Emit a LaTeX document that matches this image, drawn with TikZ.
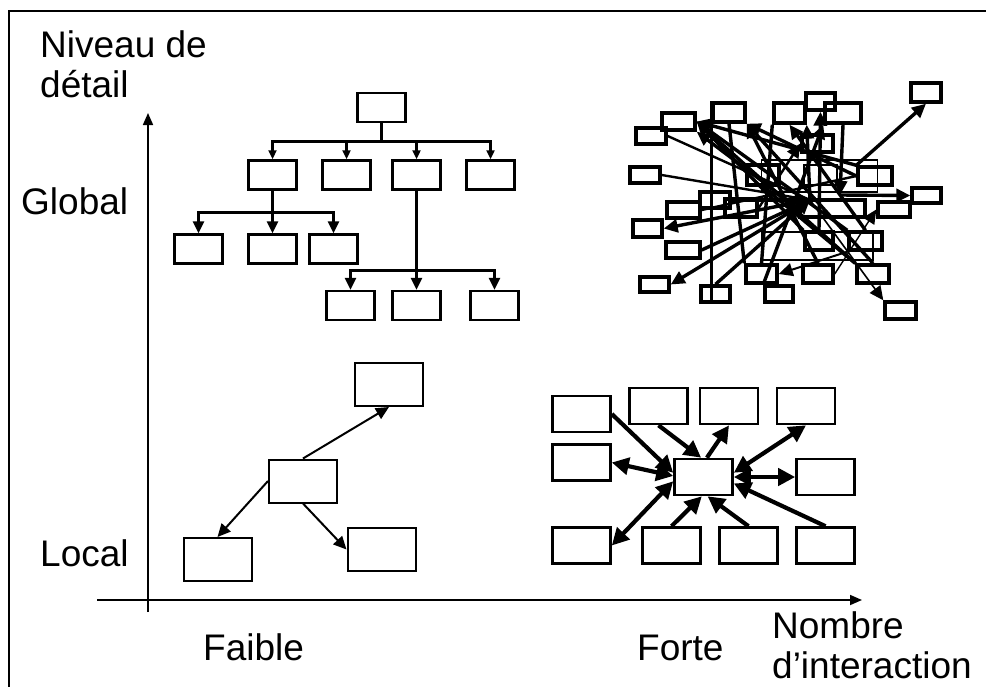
\documentclass[tikz,border=0pt]{standalone}
\usepackage{fontspec}
\setmainfont{Liberation Sans}
\usetikzlibrary{arrows.meta}

\begin{document}
\begin{tikzpicture}[
    x=1pt, y=-1pt,
    lbl/.style={anchor=base west, inner sep=0pt, font=\fontsize{37}{40}\selectfont, align=left},
    hbox/.style={draw=black, line width=2.5pt, inner sep=0pt, minimum width=48pt, minimum height=29pt},
    lbox/.style={draw=black, line width=2pt, inner sep=0pt, minimum width=68pt, minimum height=43pt},
    sbox/.style={draw=black, line width=2.6pt, inner sep=0pt, minimum width=58pt, minimum height=36pt},
    tbox/.style 2 args={draw=black, line width=3.4pt, inner sep=0pt, minimum width=#1, minimum height=#2},
    axis/.style={line width=1.7pt, -{Triangle[length=12pt, width=10pt]}},
    tree/.style={line width=2.5pt, -{Triangle[length=9pt, width=8pt]}},
    treebig/.style={line width=2.7pt, -{Triangle[length=12pt, width=11pt]}},
    link/.style={line width=2pt, -{Triangle[length=13pt, width=12pt]}},
    star/.style={line width=4.2pt, -{Triangle[length=17pt, width=17pt]}},
    starboth/.style={line width=4.2pt, {Triangle[length=17pt, width=17pt]}-{Triangle[length=17pt, width=17pt]}},
    knot/.style={line width=3.4pt, -{Triangle[length=14pt, width=13pt]}},
    kline/.style={line width=3.4pt}
  ]

    \useasboundingbox (0,0) rectangle (986,686);

    % Outer frame (only left and top edges show)
    \draw[line width=2.5pt] (9,11) rectangle (1000,700);

    % Axes
    \coordinate (yfoot) at (148,612);
    \coordinate (ytop) at (148,113);
    \coordinate (xfoot) at (97,600);
    \coordinate (xtip) at (862,600);
    \draw[axis] (yfoot) -- (ytop);
    \draw[axis] (xfoot) -- (xtip);

    % Axis labels
    \node[lbl] (ylabel) at (40,97) {Niveau de\\d\'etail};
    \node[lbl] (global) at (21,214) {Global};
    \node[lbl] (local) at (40,566) {Local};
    \node[lbl] (faible) at (203,660) {Faible};
    \node[lbl] (forte) at (637,660) {Forte};
    \node[lbl] (xlabel) at (772,678) {Nombre\\d'interaction};

    % Global / weak: hierarchy
    \node[hbox] (root) at (381.5,107.5) {};
    \node[hbox] (l1a) at (272.5,175) {};
    \node[hbox] (l1b) at (346.5,175) {};
    \node[hbox] (l1c) at (416.5,175) {};
    \node[hbox] (l1d) at (490.5,175) {};
    \node[hbox] (l2a) at (198.5,249) {};
    \node[hbox] (l2b) at (272.5,249) {};
    \node[hbox] (l2c) at (333.5,249) {};
    \node[hbox] (l2d) at (350.5,305.5) {};
    \node[hbox] (l2e) at (416.5,305.5) {};
    \node[hbox] (l2f) at (494.5,305.5) {};

    \draw[tree] (root.south) -- ++(0,18) -| (l1a.north);
    \draw[tree] (root.south) -- ++(0,18) -| (l1b.north);
    \draw[tree] (root.south) -- ++(0,18) -| (l1c.north);
    \draw[tree] (root.south) -- ++(0,18) -| (l1d.north);

    \draw[treebig] (l1a.south) -- ++(0,22) -| (l2a.north);
    \draw[treebig] (l1a.south) -- ++(0,22) -| (l2b.north);
    \draw[treebig] (l1a.south) -- ++(0,22) -| (l2c.north);

    \draw[treebig] (l1c.south) -- ++(0,80) -| (l2d.north);
    \draw[treebig] (l1c.south) -- ++(0,80) -| (l2e.north);
    \draw[treebig] (l1c.south) -- ++(0,80) -| (l2f.north);

    % Local / weak: few links
    \node[lbox] (bltop) at (389,384.5) {};
    \node[lbox] (blmid) at (303,481) {};
    \node[lbox] (blleft) at (217.5,559.5) {};
    \node[lbox] (blright) at (381.5,549.5) {};

    \draw[link] (blmid.north) -- (bltop.south);
    \draw[link] (blmid.west) -- (blleft.north);
    \draw[link] (blmid.south) -- (blright.west);

    % Local / strong: star
    \node[sbox] (c) at (703.5,477) {};
    \node[sbox] (sl1) at (581.5,414) {};
    \node[sbox] (sl2) at (581.5,462.5) {};
    \node[sbox] (sl3) at (581.5,545.5) {};
    \node[sbox] (st1) at (658.5,406) {};
    \node[sbox] (st2) at (729,406) {};
    \node[sbox] (st3) at (806,406) {};
    \node[sbox] (sr) at (825.5,477) {};
    \node[sbox] (sb1) at (671.5,545.5) {};
    \node[sbox] (sb2) at (748.5,545.5) {};
    \node[sbox] (sb3) at (825.5,545.5) {};

    \draw[star] (sl1.east) -- (c.172);
    \draw[starboth] (sl2.east) -- (c.178);
    \draw[starboth] (sl3.east) -- (c.188);
    \draw[star] (st1.south) -- (c.97);
    \draw[star] (c.80) -- (st2.south);
    \draw[starboth] (c.8) -- (st3.south);
    \draw[starboth] (c.east) -- (sr.west);
    \draw[star] (sb1.north) -- (c.265);
    \draw[star] (sb2.north) -- (c.282);
    \draw[star] (sb3.north) -- (c.-12);

    % Global / strong: tangle
    \node[tbox={30pt}{19pt}] (t1) at (926,92.5) {};
    \node[tbox={29pt}{17pt}] (t2) at (820.5,101.5) {};
    \node[tbox={32pt}{19pt}] (t3) at (729,112.5) {};
    \node[tbox={31pt}{20pt}] (t4) at (789.5,113) {};
    \node[tbox={36pt}{20pt}] (t5) at (843,113) {};
    \node[tbox={33pt}{17pt}] (t6) at (678.5,121.5) {};
    \node[tbox={30pt}{16pt}] (t7) at (651,136) {};
    \node[tbox={31pt}{17pt}] (t8) at (817.5,143.5) {};
    \node[tbox={30pt}{16pt}] (t9) at (645,175) {};
    \node[tbox={116pt}{32pt}, line width=1.8pt] (t30) at (819.5,176) {};
    \node[tbox={32pt}{20pt}] (t10) at (763,175) {};
    \node[tbox={33pt}{20pt}, line width=2pt] (t11) at (820.5,175) {};
    \node[tbox={34pt}{18pt}] (t12) at (875,176) {};
    \node[tbox={29pt}{15pt}] (t13) at (926.5,195.5) {};
    \node[tbox={30pt}{16pt}] (t14) at (715,200) {};
    \node[tbox={33pt}{16pt}] (t15) at (683.5,210) {};
    \node[tbox={32pt}{18pt}] (t16) at (741,208) {};
    \node[tbox={65pt}{17pt}] (t17) at (832.5,208.5) {};
    \node[tbox={32pt}{15pt}] (t18) at (894,209.5) {};
    \node[tbox={29pt}{17pt}] (t19) at (647.5,228.5) {};
    \node[tbox={34pt}{16pt}] (t20) at (683,250) {};
    \node[tbox={111pt}{28pt}, line width=1.8pt] (t31) at (817.5,246) {};
    \node[tbox={28pt}{18pt}] (t21) at (819,241) {};
    \node[tbox={33pt}{18pt}] (t22) at (865.5,241) {};
    \node[tbox={29pt}{15pt}] (t23) at (654.5,284.5) {};
    \node[tbox={31pt}{18pt}] (t24) at (761.5,274) {};
    \node[tbox={30pt}{18pt}] (t25) at (818,274) {};
    \node[tbox={32pt}{18pt}] (t26) at (873,274) {};
    \node[tbox={29pt}{16pt}] (t27) at (715.5,294) {};
    \node[tbox={28pt}{16pt}] (t28) at (779,294) {};
    \node[tbox={31pt}{17pt}] (t29) at (900.5,310.5) {};

    \coordinate (hub) at (810,200);
    \coordinate (hubr) at (840,195);

    \draw[knot] (t12.north west) -- (t1.south);
    \draw[kline] (t3.north west) -- (t3.north west |- t27.south);
    \draw[knot] (t21.north) -- (t2.south);
    \draw[knot] (t5.south) -- (hubr);
    \draw[knot] (hubr) -- (t13.west);
    \draw[knot] (hub) -- (t19.east);
    \draw[knot] (hub) -- (t23.east);
    \draw[knot] (t27.north) -- (hub);
    \draw[knot] (t26.north west) -- (t6.east);
    \draw[knot] (t12.north west) -- (t6.east);
    \draw[knot] (t17.west) -- (t6.south east);
    \draw[knot] (t21.north west) -- (t6.east);
    \draw[knot] (t22.north west) -- (t6.east);
    \draw[knot] (t12.west) -- (t3.south east);
    \draw[knot] (t26.north) -- (t3.south east);
    \draw[knot] (t25.north) -- (t3.south east);
    \draw[knot] (t22.north) -- (t4.south);
    \draw[knot] (hub) -- (t4.south east);
    \draw[kline] (t24.north) -- (t4.south west);
    \draw[kline] (t24.north west) -- (t3.south);
    \draw[knot, line width=1.6pt] (hub) -- (t29.north west);
    \draw[kline, line width=2.4pt] (t9.east) -- (hub);
    \draw[kline, line width=2.4pt] (t7.east) -- (hub);
    \draw[knot, line width=1.4pt] (t25.east) -- (t18.west);
    \draw[knot, line width=2pt] (t22.south west) -- (t24.east);
    \draw[kline] (t20.east) -- (hub);
    \draw[kline] (t14.east) -- (hub);
    \draw[knot] (t28.north west) -- (t5.south west);
    \draw[kline, line width=2.4pt] (t15.east) -- (t12.west);
    \draw[kline] (t10.south) -- (t26.north west);
    \draw[knot, line width=2.4pt] (t16.east) -- (t8.west);

  \end{tikzpicture}
\end{document}
